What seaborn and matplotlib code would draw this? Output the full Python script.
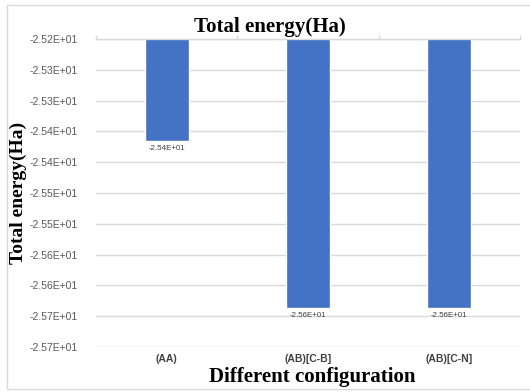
import matplotlib
matplotlib.use("Agg")
import matplotlib.pyplot as plt
import seaborn as sns
import pandas as pd
from matplotlib.ticker import FixedLocator
from matplotlib.patches import Rectangle

categories = ["(AA)", "(AB)[C-B]", "(AB)[C-N]"]
energies = [-25.366, -25.637, -25.636]
bar_labels = ["-2.54E+01", "-2.56E+01", "-2.56E+01"]
y_ticks = [-25.20, -25.25, -25.30, -25.35, -25.40, -25.45, -25.50, -25.55, -25.60, -25.65, -25.70]
y_tick_labels = ["-2.52E+01", "-2.53E+01", "-2.53E+01", "-2.54E+01", "-2.54E+01", "-2.55E+01",
                 "-2.55E+01", "-2.56E+01", "-2.56E+01", "-2.57E+01", "-2.57E+01"]

df = pd.DataFrame({"config": categories, "energy": energies})

sns.set_style("white")
W, H = 530, 392
fig = plt.figure(figsize=(W / 100, H / 100), dpi=100)
ax = fig.add_axes([96 / W, 1 - 347 / H, (520 - 96) / W, (347 - 39) / H])

sns.barplot(data=df, x="config", y="energy", color="#4472C4", width=0.31,
            saturation=1, ax=ax, zorder=2)

ax.set_ylim(min(y_ticks), max(y_ticks))
ax.set_yticks(y_ticks)
ax.set_yticklabels(y_tick_labels)
ax.grid(axis="y", color="#d9d9d9", linewidth=1, zorder=0)
ax.set_axisbelow(True)

for s in ["left", "right", "bottom"]:
    ax.spines[s].set_visible(False)
ax.spines["top"].set_color("#d9d9d9")
ax.spines["top"].set_linewidth(1)

ax.tick_params(axis="y", length=0, pad=13, labelsize=7.5, labelcolor="#595959")
ax.tick_params(axis="x", which="major", length=0, pad=5, labelsize=7.5, labelcolor="#404040")
for lab in ax.get_xticklabels():
    lab.set_fontweight("bold")
    lab.set_family("Liberation Sans")
for lab in ax.get_yticklabels():
    lab.set_family("Liberation Sans")

ax.xaxis.set_minor_locator(FixedLocator([-0.5, 0.5, 1.5, 2.5]))
ax.tick_params(axis="x", which="minor", top=True, bottom=False, direction="out",
               length=3, color="#d9d9d9", width=1)
ax.set_xlim(-0.5, 2.5)

ax.bar_label(ax.containers[0], labels=bar_labels, padding=3, fontsize=5.7,
             color="#404040", family="Liberation Sans")

ax.set_xlabel("Different configuration", fontsize=15, fontweight="bold",
              family="Liberation Serif", color="black")
ax.xaxis.set_label_coords((312 - 96) / 424, -(367 - 347) / 308)
ax.xaxis.label.set_va("top")
ax.set_ylabel("Total energy(Ha)", fontsize=14, fontweight="bold",
              family="Liberation Serif", color="black")
ax.yaxis.set_label_coords(-(96 - 27) / 424, 0.5)

fig.text(270 / W, 1 - 27 / H, "Total energy(Ha)", fontsize=15, fontweight="bold",
         family="Liberation Serif", ha="center", va="center", color="black")

fig.patches.append(Rectangle((7 / W, 1 - 389 / H), 2, (389 - 5) / H,
                             transform=fig.transFigure, fill=False,
                             edgecolor="#d9d9d9", linewidth=1))

fig.savefig("out.png", dpi=100)
